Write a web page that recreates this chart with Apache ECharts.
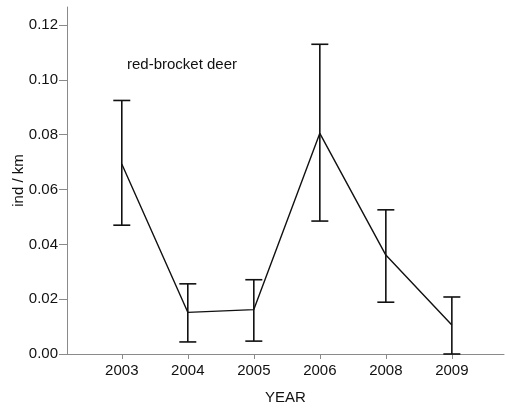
<!DOCTYPE html>
<html style="height: 100%">
<head>
    <meta charset="utf-8">
    <title>red-brocket deer</title>
    <script src="https://cdn.jsdelivr.net/npm/echarts@6/dist/echarts.min.js"></script>
</head>
<body style="height: 100%; margin: 0; background: #fff">
    <div id="chart" style="width: 505px; height: 411px;"></div>

    <script type="text/javascript">
    // values
    var years = ['2003', '2004', '2005', '2006', '2008', '2009'];
    var means = [0.0693, 0.0152, 0.0162, 0.0805, 0.0361, 0.0106];
    var upper = [0.0925, 0.0256, 0.0271, 0.1130, 0.0526, 0.0208];
    var lower = [0.0470, 0.0044, 0.0047, 0.0485, 0.0189, 0.0000];
    var yTicks = [0, 0.02, 0.04, 0.06, 0.08, 0.10, 0.12];

    var positions = years.map(function (y, i) { return i; });
    var lineData = means.map(function (m, i) { return [i, m]; });
    var barData = lower.map(function (lo, i) { return [i, lo, upper[i]]; });

    var font = 'Liberation Sans, Arial, sans-serif';
    var axisColor = '#8a8a8a';

    var option = {
        backgroundColor: '#fff',
        animation: false,
        title: {
            text: 'red-brocket deer',
            left: 122,
            top: 52,
            textStyle: { fontFamily: font, fontSize: 15, fontWeight: 'normal', color: '#111' }
        },
        grid: { left: 67, right: 1, top: 7, bottom: 57, outerBoundsMode: 'none', containLabel: false },
        xAxis: {
            type: 'value',
            min: -0.83,
            max: 5.79,
            name: 'YEAR',
            nameLocation: 'middle',
            nameGap: 36,
            nameMoveOverlap: false,
            nameTextStyle: { fontFamily: font, fontSize: 15, color: '#111' },
            axisLine: { show: true, onZero: false, lineStyle: { color: axisColor, width: 1 } },
            axisTick: { show: true, customValues: positions, length: 5, lineStyle: { color: axisColor } },
            axisLabel: {
                customValues: positions,
                formatter: function (v) { return years[Math.round(v)]; },
                fontFamily: font, fontSize: 15, color: '#111', margin: 9
            },
            splitLine: { show: false }
        },
        yAxis: {
            type: 'value',
            min: 0,
            max: 0.1266,
            name: 'ind / km',
            nameLocation: 'middle',
            nameGap: 41,
            nameMoveOverlap: false,
            nameTextStyle: { fontFamily: font, fontSize: 15, color: '#111' },
            axisLine: { show: true, onZero: false, lineStyle: { color: axisColor, width: 1 } },
            axisTick: { show: true, customValues: yTicks, length: 8, lineStyle: { color: axisColor } },
            axisLabel: {
                customValues: yTicks,
                formatter: function (v) { return v.toFixed(2); },
                fontFamily: font, fontSize: 15, color: '#111', margin: 9
            },
            splitLine: { show: false }
        },
        series: [
            {
                type: 'line',
                data: lineData,
                symbol: 'none',
                lineStyle: { color: '#111', width: 1.4 },
                z: 3
            },
            {
                type: 'custom',
                data: barData,
                z: 4,
                renderItem: function (params, api) {
                    var x = api.value(0);
                    var lo = api.coord([x, api.value(1)]);
                    var hi = api.coord([x, api.value(2)]);
                    var half = 8.5;
                    var style = { stroke: '#111', lineWidth: 1.6 };
                    return {
                        type: 'group',
                        children: [
                            { type: 'line', shape: { x1: hi[0], y1: hi[1], x2: lo[0], y2: lo[1] }, style: style },
                            { type: 'line', shape: { x1: hi[0] - half, y1: hi[1], x2: hi[0] + half, y2: hi[1] }, style: style },
                            { type: 'line', shape: { x1: lo[0] - half, y1: lo[1], x2: lo[0] + half, y2: lo[1] }, style: style }
                        ]
                    };
                }
            }
        ]
    };

    var myChart = echarts.init(document.getElementById('chart'));
    myChart.setOption(option);
    </script>
</body>
</html>
